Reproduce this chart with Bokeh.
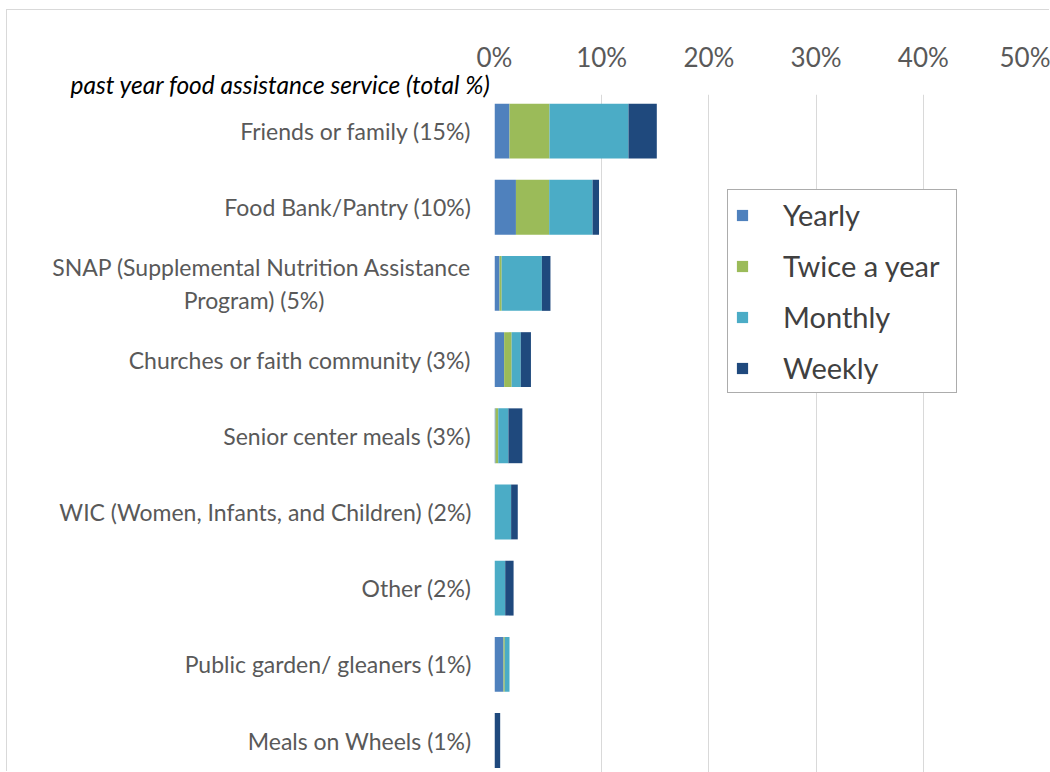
from bokeh.plotting import figure
from bokeh.models import (Range1d, FixedTicker, PrintfTickFormatter, Legend, LegendItem, Title)
from bokeh.embed import file_html
from bokeh.resources import INLINE

categories = [
    "Friends or family (15%)",
    "Food Bank/Pantry (10%)",
    "SNAP (Supplemental Nutrition Assistance\nProgram) (5%)",
    "Churches or faith community (3%)",
    "Senior center meals (3%)",
    "WIC (Women, Infants, and Children) (2%)",
    "Other (2%)",
    "Public garden/ gleaners (1%)",
    "Meals on Wheels (1%)",
]
series = ["Yearly", "Twice a year", "Monthly", "Weekly"]
yearly = [1.4, 2.0, 0.47, 0.9, 0.1, 0.0, 0.0, 0.84, 0.0]
twice = [3.73, 3.1, 0.2, 0.7, 0.25, 0.0, 0.0, 0.12, 0.0]
monthly = [7.37, 4.05, 3.75, 0.85, 0.95, 1.55, 1.0, 0.44, 0.0]
weekly = [2.64, 0.6, 0.8, 0.95, 1.3, 0.62, 0.78, 0.0, 0.53]
x_ticks = [0, 10, 20, 30, 40, 50]
axis_title = "past year food assistance service (total %)"
colors = ["#4F81BD", "#9BBB59", "#4BACC6", "#1F497D"]

n = len(categories)
ypos = [n - 1 - i for i in range(n)]
data = {"y": ypos, "Yearly": yearly, "Twice a year": twice, "Monthly": monthly, "Weekly": weekly}


def centered(label):
    # pad the shorter line of a two-line label so that it sits centred
    lines = label.split("\n")
    if len(lines) == 1:
        return label
    return lines[0] + "\n" + lines[1] + "\u00a0" * 25


FONT = "Lato"
p = figure(width=1043, height=762, output_backend="svg", toolbar_location=None,
           x_range=Range1d(0, 50), y_range=Range1d(-0.42, n - 1 + 0.48),
           x_axis_location="above", min_border_left=487, min_border_right=20,
           min_border_top=84, min_border_bottom=0)
p.margin = (10, 0, 0, 7)
p.styles = {"box-shadow": "-1px -1px 0 0 #d9d9d9"}
p.outline_line_color = None
p.background_fill_color = "white"
p.border_fill_color = "white"

renderers = p.hbar_stack(series, y="y", height=0.72, color=colors, source=data, line_color=None)

p.xaxis.ticker = FixedTicker(ticks=x_ticks)
p.xaxis.formatter = PrintfTickFormatter(format="%d%%")
p.xaxis.axis_line_color = None
p.xaxis.major_tick_line_color = None
p.xaxis.minor_tick_line_color = None
p.xaxis.major_tick_out = 0
p.xaxis.major_tick_in = 0
p.xaxis.major_label_text_font = FONT
p.xaxis.major_label_text_font_size = "26px"
p.xaxis.major_label_text_color = "#595959"
p.xaxis.major_label_standoff = 0

p.yaxis.ticker = FixedTicker(ticks=ypos)
p.yaxis.major_label_overrides = {ypos[i]: centered(categories[i]) for i in range(n)}
p.yaxis.axis_line_color = None
p.yaxis.major_tick_line_color = None
p.yaxis.minor_tick_line_color = None
p.yaxis.major_label_text_font = FONT
p.yaxis.major_label_text_font_size = "23px"
p.yaxis.major_label_text_color = "#595959"
p.yaxis.major_label_standoff = 17

p.xgrid.ticker = FixedTicker(ticks=x_ticks)
p.xgrid.grid_line_color = "#d9d9d9"
p.ygrid.grid_line_color = None

title = Title(text=axis_title, align="left", offset=-424, standoff=-9,
              text_font=FONT, text_font_style="italic", text_font_size="24.5px",
              text_color="#000000")
p.add_layout(title, "above")
p.above = [title] + [r for r in p.above if r is not title]

legend = Legend(items=[LegendItem(label=s, renderers=[r]) for s, r in zip(series, renderers)],
                location=(233, 379), label_text_font=FONT, label_text_font_size="29px",
                label_text_color="#404040", glyph_width=14, glyph_height=14,
                label_standoff=34, spacing=16, padding=7, margin=0, label_width=166,
                border_line_color="#595959", border_line_width=1,
                background_fill_alpha=1)
p.add_layout(legend, "center")

open("out.html", "w").write(file_html(p, INLINE))
